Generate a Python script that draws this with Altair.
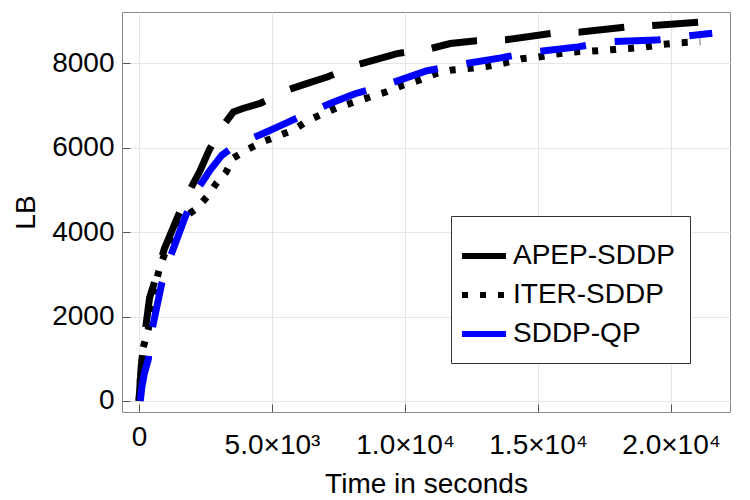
import altair as alt
import pandas as pd

methods = ["APEP-SDDP", "ITER-SDDP", "SDDP-QP"]

apep_t = [0, 80, 200, 400, 650, 950, 1480, 1980, 2300, 2650, 3170, 3550, 3900, 4550,
          5550, 6300, 7100, 8100, 9700, 10900, 11700, 12600, 13800, 15500, 16600,
          18500, 19600, 21400]
apep_lb = [0, 800, 1500, 2450, 2950, 3600, 4400, 5080, 5460, 5960, 6530, 6850, 6930, 7050,
           7360, 7520, 7680, 7950, 8230, 8340, 8470, 8530, 8560, 8710, 8740,
           8870, 8910, 8990]

iter_t = [0, 50, 160, 350, 540, 790, 1230, 1700, 2170, 2545, 2900, 3270, 3550, 4080,
          4610, 5230, 5800, 6370, 6930, 7500, 8130, 8750, 9310, 9920, 10530, 11130,
          11760, 12450, 13090, 13760, 14390, 15010, 15670, 16330, 17020, 17710, 18400,
          19030, 19710, 20400, 21100]
iter_lb = [0, 500, 1270, 1700, 2540, 3200, 3900, 4350, 4560, 4830, 5150, 5420, 5760, 5960,
           6130, 6280, 6420, 6650, 6810, 6960, 7090, 7215, 7325, 7480, 7600, 7750,
           7840, 7880, 7930, 8010, 8110, 8150, 8220, 8270, 8290, 8320, 8350,
           8390, 8450, 8490, 8510]

qp_t = [50, 100, 200, 350, 480, 850, 1170, 1730, 2170, 2650, 3110, 3500, 4050, 4600,
        5550, 6550, 7300, 8120, 9200, 10800, 11950, 13600, 14830, 16500, 17650,
        19450, 20600, 21550]
qp_lb = [0, 300, 650, 990, 1660, 2770, 3400, 4350, 4990, 5450, 5820, 6000, 6175, 6320,
         6590, 6880, 7080, 7280, 7470, 7820, 7960, 8130, 8270, 8390, 8510,
         8550, 8650, 8710]

x_ticks = [0, 5000, 10000, 15000, 20000]
x_tick_labels = ["0", "5.0×10³", "1.0×10⁴", "1.5×10⁴", "2.0×10⁴"]
y_ticks = [0, 2000, 4000, 6000, 8000]

colors = ["#000000", "#000000", "#0000ff"]
dashes = [[46, 28], [6, 12], [1, 0]]

df_black = pd.concat([
    pd.DataFrame({"t": apep_t, "lb": apep_lb, "method": methods[0]}),
    pd.DataFrame({"t": iter_t, "lb": iter_lb, "method": methods[1]}),
])
df_blue = pd.DataFrame({"t": qp_t, "lb": qp_lb, "method": methods[2]})

label_expr = " : ".join(
    f"datum.value == {v} ? '{lab}'" for v, lab in zip(x_ticks, x_tick_labels)
) + " : ''"

FONT = "Liberation Sans"

x_enc = alt.X(
    "t:Q",
    scale=alt.Scale(domain=[-639, 22218], nice=False, zero=False),
    axis=alt.Axis(
        values=x_ticks, labelExpr=label_expr, title="Time in seconds",
        offset=-8, domain=False, tickSize=8, tickColor="#555555",
        labelPadding={"condition": {"test": "datum.value == 0", "value": 11}, "value": 19},
        titleBaseline="alphabetic", titleY=88, titleX=304, titleAlign="center",
    ),
)
y_enc = alt.Y(
    "lb:Q",
    scale=alt.Scale(domain=[-261, 9216], nice=False, zero=False),
    axis=alt.Axis(
        values=y_ticks, format="d", title="LB", offset=-8, domain=False, tickSize=8,
        tickColor="#555555", labelPadding=8,
        titleBaseline="alphabetic", titleX=-96, titleY=200, titleAlign="center", titleAngle=270,
    ),
)
color_enc = alt.Color("method:N", scale=alt.Scale(domain=methods, range=colors), title=None)

black = alt.Chart(df_black).mark_line(strokeWidth=7, strokeCap="butt").encode(
    x=x_enc, y=y_enc, color=color_enc,
    strokeDash=alt.StrokeDash("method:N", scale=alt.Scale(domain=methods, range=dashes), title=None),
    detail="method:N",
)
blue = alt.Chart(df_blue).mark_line(strokeWidth=7, strokeCap="butt", strokeDash=[46, 29]).encode(
    x=x_enc, y=y_enc, color=color_enc,
)

chart = alt.layer(black, blue).properties(
    width=608, height=400,
    autosize=alt.AutoSizeParams(type="none"),
    padding={"left": 114, "top": 4, "right": 12, "bottom": 88},
).configure_view(
    stroke="#888888", strokeWidth=1,
).configure_axis(
    labelFont=FONT, titleFont=FONT, labelFontSize=28, titleFontSize=28,
    titleFontWeight="normal", labelColor="#000000", titleColor="#000000",
    gridColor="#e6e6e6", gridWidth=1,
).configure_legend(
    orient="none", legendX=329, legendY=204,
    labelFont=FONT, labelFontSize=28, labelColor="#000000", labelLimit=400,
    symbolType="stroke", symbolSize=1936, symbolStrokeWidth=6,
    strokeColor="#333333", fillColor="#ffffff", padding=15,
    symbolOffset=-7, labelOffset=4, rowPadding=0,
)

chart.save("out.html", embed_options={"renderer": "svg", "actions": False})
